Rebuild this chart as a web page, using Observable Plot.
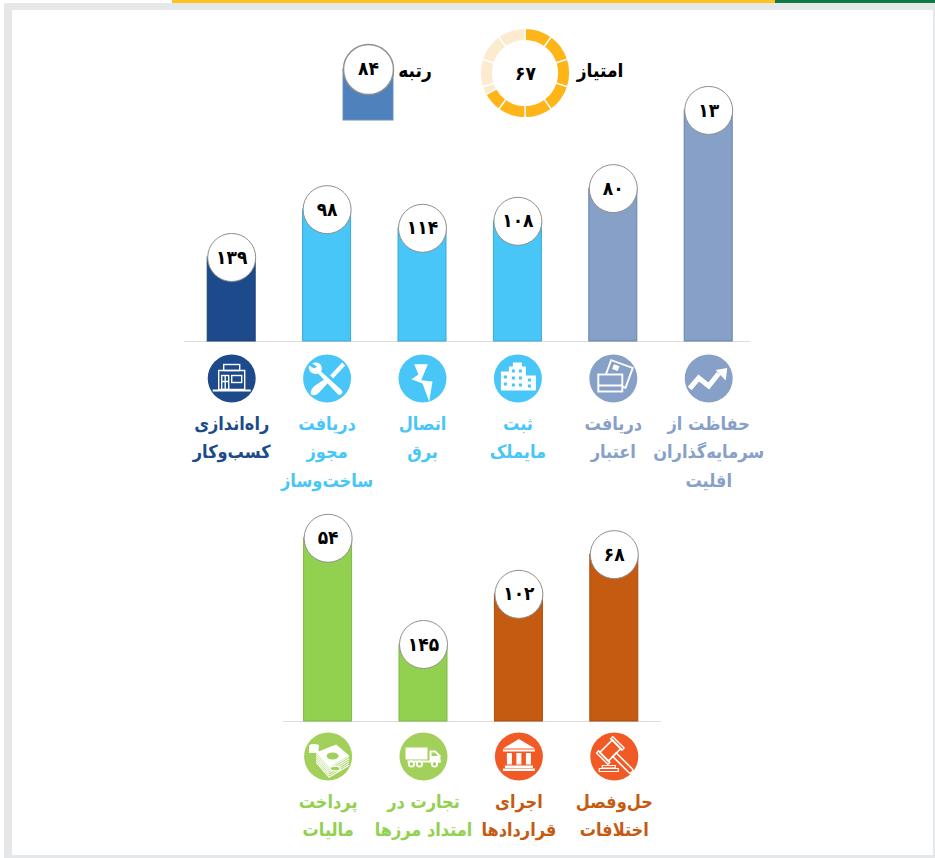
<!DOCTYPE html>
<html lang="fa">
<head>
<meta charset="utf-8">
<script src="https://cdn.jsdelivr.net/npm/d3@7"></script>
<script src="https://cdn.jsdelivr.net/npm/@observablehq/plot@0.6"></script>
<style>
html,body{margin:0;padding:0;background:#fff;width:935px;height:858px;overflow:hidden}
#page{position:relative;width:935px;height:858px}
.band{position:absolute}
.layer{position:absolute}
.layer svg{display:block;background:transparent!important}
.key{position:absolute;font-family:"DejaVu Sans Condensed","DejaVu Sans",sans-serif;font-weight:700;font-size:19px;color:#000;direction:rtl;line-height:24px;white-space:nowrap}
</style>
</head>
<body>
<div id="page">
  <div class="band" style="left:4px;top:3px;width:931px;height:855px;background:#e6e7e8"></div>
  <div class="band" style="left:12px;top:10px;width:921px;height:845px;background:#fff"></div>
  <div class="band" style="left:172px;top:0;width:603px;height:3px;background:#ffc31e"></div>
  <div class="band" style="left:775px;top:0;width:160px;height:3px;background:#0d7a43"></div>
  <div class="layer" id="chart" style="left:0;top:0"></div>
  <div class="layer" id="rankKey" style="left:342px;top:40px"></div>
  <div class="layer" id="scoreKey" style="left:480px;top:28px"></div>
  <div class="key" style="left:392px;top:58px;width:46px;text-align:center">رتبه</div>
  <div class="key" style="left:570px;top:58px;width:60px;text-align:center">امتیاز</div>
</div>
<script>
// ---- data ----
const rows        = ["top","top","top","top","top","top","bottom","bottom","bottom","bottom"];
const slots       = [0,1,2,3,4,5,1,2,3,4];
const ranks       = [13,80,108,114,98,139,68,102,145,54];
const rankLabels  = ["۱۳","۸۰","۱۰۸","۱۱۴","۹۸","۱۳۹","۶۸","۱۰۲","۱۴۵","۵۴"];
const names = [
  "حفاظت از\nسرمایه‌گذاران\nاقلیت",
  "دریافت\nاعتبار",
  "ثبت\nمایملک",
  "اتصال\nبرق",
  "دریافت\nمجوز\nساخت‌وساز",
  "راه‌اندازی\nکسب‌وکار",
  "حل‌وفصل\nاختلافات",
  "اجرای\nقراردادها",
  "تجارت در\nامتداد مرزها",
  "پرداخت\nمالیات"
];
const barColors   = ["#87a0c8","#87a0c8","#48c6f8","#48c6f8","#48c6f8","#1c4a8a","#c55a11","#c55a11","#92d050","#92d050"];
const barStrokes  = ["#6480ab","#6480ab","#3aa9d6","#3aa9d6","#3aa9d6","#1a4176","#a94c0e","#a94c0e","#7fb845","#7fb845"];
const iconColors  = ["#87a0c8","#87a0c8","#48c6f8","#48c6f8","#48c6f8","#1c4a8a","#f15a24","#f15a24","#a2d05a","#a2d05a"];
const textColors  = ["#87a0c8","#87a0c8","#48c6f8","#48c6f8","#48c6f8","#1c4a8a","#c55a11","#c55a11","#92d050","#92d050"];
const keyRank = 84, keyRankLabel = "۸۴";
const keyScore = 67, keyScoreLabel = "۶۷";
const donutFrom   = [0,10,20,30,40,50,60,67,70,80,90];
const donutTo     = [10,20,30,40,50,60,67,70,80,90,100];
const donutColors = ["#ffb518","#ffb518","#ffb518","#ffb518","#ffb518","#ffb518","#ffb518","#fdebcf","#fdebcf","#fdebcf","#fdebcf"];

// ---- white pictograms on a 48 x 48 grid ----
const W = 'fill="none" stroke="#fff" stroke-width="1.4"';
const stackLines = [0,1,2,3,4].map(k => `<path d="M12 ${21+k*2.2}L25 ${36+k*2.2}L45 ${24+k*2.2}" fill="none" stroke="#fff" stroke-width="1.1"/>`).join("");
const icons = [
  `<path d="M5 34L14 23.5 24 31.5 34 19" fill="none" stroke="#fff" stroke-width="5"/><path d="M31 15.5L42.5 13.5 41 26z" fill="#fff"/>`,
  `<g transform="rotate(20 29 21)"><rect x="17" y="9" width="23" height="21" fill="none" stroke="#fff" stroke-width="1.9"/><rect x="21" y="12" width="6" height="5" fill="#fff"/></g><rect x="9" y="20" width="24" height="17" fill="#87a0c8" stroke="#fff" stroke-width="1.9"/><rect x="9" y="30" width="24" height="2" fill="#fff"/>`,
  `<path d="M7 36V17h8v-5h4V8h9v4h4v9h10v15z" fill="#fff"/><g fill="#48c6f8"><rect x="10" y="21" width="3" height="3"/><rect x="10" y="28" width="3" height="3"/><rect x="18" y="15" width="3" height="3"/><rect x="18" y="22" width="3" height="3"/><rect x="18" y="29" width="3" height="3"/><rect x="25" y="15" width="3" height="3"/><rect x="25" y="22" width="3" height="3"/><rect x="25" y="29" width="3" height="3"/><rect x="34" y="24" width="3" height="3"/><rect x="34" y="30" width="3" height="3"/></g>`,
  `<path d="M15.7 9.7L29.3 9.7 22.7 25.7 34 27 30.7 47 24 29 13 24.7 20 20z" fill="#fff"/>`,
  `<path d="M9 9c3-2 8-1 9 2 1 2 1 4 0 6l21 19c1 3-1 5-4 4L15 19c-3 1-6 0-8-2-1-2-2-4-1-6l5 3 3-2z" fill="#fff"/><path d="M39 8l3 3-12 13-3-3z" fill="#fff"/><path d="M24 23l3 3-10 11c-2 3-7 5-9 3-1-2 0-6 4-9z" fill="#fff"/>`,
  `<g ${W}><rect x="16" y="10" width="16" height="6"/><path d="M11 16h26v19H11z"/><rect x="14" y="21" width="7" height="14"/><rect x="24" y="21" width="10" height="7"/><path d="M17.5 21v14M14 27h7"/></g><path d="M5 35h38v2H5z" fill="#fff"/>`,
  `<g transform="rotate(45 20 18)"><rect x="14" y="9" width="12" height="18" fill="none" stroke="#fff" stroke-width="1.6"/><rect x="12" y="6.5" width="16" height="3" fill="none" stroke="#fff" stroke-width="1.4"/><rect x="12" y="26.5" width="16" height="3" fill="none" stroke="#fff" stroke-width="1.4"/><path d="M26 15.5h23c2 0 2 5 0 5H26z" fill="none" stroke="#fff" stroke-width="1.6"/></g><path d="M12 33h13v2.5H12zM9 36h19v3H9z" fill="none" stroke="#fff" stroke-width="1.2"/>`,
  `<path d="M24 6.5L8 16H40z" fill="#fff"/><path d="M8 17h32v2H8zM10 33h28v2.4H10zM8 36h32v2.4H8z" fill="#fff"/><g fill="#fff"><rect x="12" y="20.5" width="5" height="11.5"/><rect x="21.5" y="20.5" width="5" height="11.5"/><rect x="31" y="20.5" width="5" height="11.5"/></g>`,
  `<rect x="6" y="15" width="22" height="12" fill="#fff"/><path d="M30 18h6l5 5v7H30z" fill="#fff"/><path d="M32 20h3.5l3 3.5H32z" fill="#a2d05a"/><path d="M8 28h33v2H8z" fill="#fff"/><g fill="#a2d05a" stroke="#fff" stroke-width="1.8"><circle cx="12" cy="31.5" r="2.6"/><circle cx="20" cy="31.5" r="2.6"/><circle cx="35" cy="31.5" r="2.6"/></g>`,
  `<path d="M12 20L32 12 45 23 25 35z" fill="#fff"/><ellipse cx="28.5" cy="23.5" rx="6" ry="3.4" fill="#a2d05a"/>${stackLines}<ellipse cx="10" cy="14" rx="5" ry="2.4" fill="#fff"/><path d="M5 15.5h9.5v5H5z" fill="#fff"/><ellipse cx="31" cy="36" rx="5" ry="2.4" fill="#a2d05a" stroke="#fff" stroke-width="1.3"/>`
];
const iconSrc = icons.map(s =>
  "data:image/svg+xml," + encodeURIComponent(`<svg xmlns="http://www.w3.org/2000/svg" viewBox="0 0 48 48" width="48" height="48">${s}</svg>`));

// ---- table built from the arrays ----
const table = ranks.map((rank, i) => ({
  rank, row: rows[i], slot: slots[i], label: rankLabels[i], name: names[i],
  bar: barColors[i], edge: barStrokes[i], icon: iconColors[i], ink: textColors[i], src: iconSrc[i]
}));
const RANK_BASE = 211;
const topRow = table.filter(d => d.row === "top");
const botRow = table.filter(d => d.row === "bottom");
const FONT = '"DejaVu Sans Condensed", "DejaVu Sans", sans-serif';

function rowMarks(data, nudgeX, iconDy, textDy, ruleInsetL, ruleInsetR, rowName) {
  return [
    Plot.ruleY([{row: rowName}], {y: () => RANK_BASE, fy: "row", stroke: "#dcdcdc", strokeWidth: 1, insetLeft: ruleInsetL, insetRight: ruleInsetR}),
    Plot.barY(data, {x: "slot", y1: () => RANK_BASE, y2: "rank", fy: "row", fill: d => d.bar, stroke: d => d.edge, strokeWidth: 1, dx: nudgeX}),
    Plot.dot(data, {x: "slot", y: "rank", fy: "row", r: 24, fill: "#fff", stroke: "#8f8f8f", strokeWidth: 1, dx: nudgeX}),
    Plot.text(data, {x: "slot", y: "rank", fy: "row", text: "label", fill: "#000", fontSize: 19, fontWeight: 700, fontFamily: FONT, dx: nudgeX}),
    Plot.dot(data, {x: "slot", y: () => RANK_BASE, fy: "row", r: 24, fill: d => d.icon, stroke: "none", dx: nudgeX, dy: iconDy}),
    Plot.image(data, {x: "slot", y: () => RANK_BASE, fy: "row", src: "src", width: 48, height: 48, dx: nudgeX, dy: iconDy}),
    Plot.text(data, {x: "slot", y: () => RANK_BASE, fy: "row", text: "name", fill: d => d.ink, fontSize: 18, fontWeight: 700, fontFamily: FONT, lineHeight: 1.58, lineAnchor: "top", textAnchor: "middle", dx: nudgeX, dy: textDy})
  ];
}

const chart = Plot.plot({
  width: 935, height: 858, margin: 0,
  style: {background: "transparent", overflow: "visible"},
  x: {type: "band", domain: [5,4,3,2,1,0], range: [183.5, 755.9], paddingInner: 0.497, paddingOuter: 0.2485, round: false, axis: null},
  y: {domain: [RANK_BASE, RANK_BASE - 341 / 1.167], range: [341, 0], axis: null},
  fy: {domain: ["top","bottom"], range: [0, 760], padding: 0, round: false, axis: null},
  color: {type: "identity"},
  marks: [
    ...rowMarks(topRow, 0, 37, 68, 184, 185, "top"),
    ...rowMarks(botRow, 1, 35, 66, 283, 274, "bottom")
  ]
});
chart.setAttribute("dir", "rtl");
document.getElementById("chart").appendChild(chart);

// ---- rank key ----
const rankKey = Plot.plot({
  width: 52, height: 84, margin: 0,
  style: {background: "transparent", overflow: "visible"},
  x: {type: "band", domain: [keyRank], range: [0.5, 50.5], padding: 0, axis: null},
  y: {domain: [0, keyRank], range: [80, 29], axis: null},
  marks: [
    Plot.barY([keyRank], {x: d => d, y: d => d, fill: "#4f81bd", stroke: "#6b8fb9"}),
    Plot.dot([keyRank], {x: d => d, y: d => d, r: 25, fill: "#fff", stroke: "#8f8f8f"}),
    Plot.text([keyRankLabel], {x: () => keyRank, y: () => keyRank, text: d => d, fill: "#000", fontSize: 19, fontWeight: 700, fontFamily: FONT, dy: -1})
  ]
});
document.getElementById("rankKey").appendChild(rankKey);

// ---- score key: ten ring segments, the score filling them ----
const donutData = donutFrom.map((from, i) => ({from, to: donutTo[i], fill: donutColors[i]}));
const scoreKey = Plot.plot({
  width: 90, height: 90, margin: 0,
  style: {background: "transparent", overflow: "visible"},
  x: {domain: [0, 100], range: [0, 2 * Math.PI], axis: null},
  color: {type: "identity"},
  marks: [
    Plot.rect(donutData, {
      x1: "from", x2: "to", fill: "fill",
      render(index, scales, values, dim) {
        const arc = d3.arc().innerRadius(32.4).outerRadius(44.8);
        const g = d3.create("svg:g").attr("transform", `translate(${dim.width / 2},${dim.height / 2})`);
        for (const i of index) {
          g.append("path")
            .attr("d", arc({startAngle: values.x1[i], endAngle: values.x2[i]}))
            .attr("fill", values.fill[i])
            .attr("stroke", "#fff").attr("stroke-width", 1.4);
        }
        return g.node();
      }
    }),
    Plot.text([keyScoreLabel], {frameAnchor: "middle", text: d => d, fill: "#000", fontSize: 19, fontWeight: 700, fontFamily: FONT})
  ]
});
document.getElementById("scoreKey").appendChild(scoreKey);
</script>
</body>
</html>
